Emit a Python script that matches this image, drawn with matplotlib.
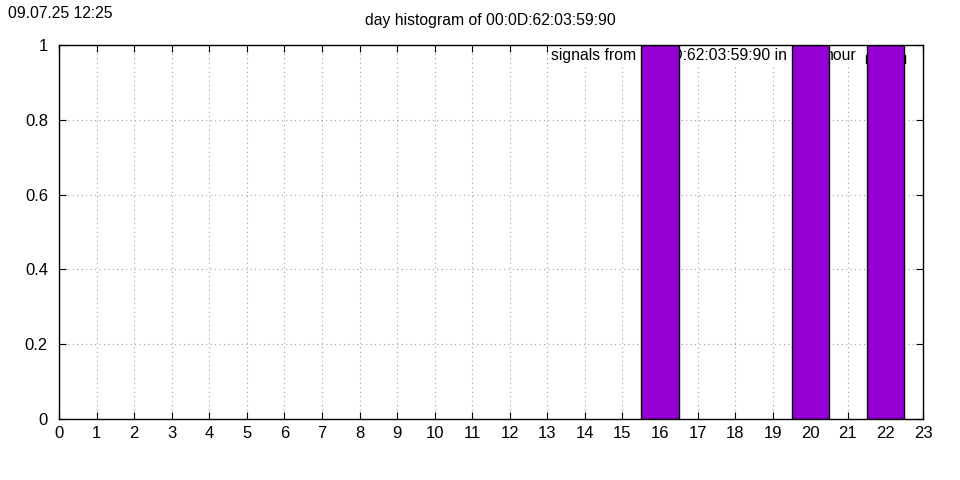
import matplotlib.pyplot as plt
import matplotlib.patches as mpatches

plt.rcParams['font.family'] = ['Liberation Sans', 'DejaVu Sans']

# данные
hours = [16, 20, 22]
counts = [1, 1, 1]
x_ticks = list(range(0, 24))
y_ticks = [0, 0.2, 0.4, 0.6, 0.8, 1]
y_labels = ['0', '0.2', '0.4', '0.6', '0.8', '1']
mac = '00:0D:62:03:59:90'
bar_color = '#9400d3'
fs = 11.3

fig = plt.figure(figsize=(9.6, 4.8), dpi=100)
ax = fig.add_axes([59 / 960, 1 - 419 / 480, 864 / 960, 374 / 480])

# легенда в стиле gnuplot (под столбцами)
bg = mpatches.Rectangle(((548 - 59) / 864, 0.94), (860 - 548) / 864, 0.06,
                        transform=ax.transAxes, facecolor='white', edgecolor='none', zorder=1)
ax.add_patch(bg)
ax.text((551 - 59) / 864, 0.971, f'signals from {mac} in', transform=ax.transAxes,
        ha='left', va='center', fontsize=fs, zorder=2)
ax.text((857 - 59) / 864, 0.971, 'hour', transform=ax.transAxes,
        ha='right', va='center', fontsize=fs, zorder=2)
key = mpatches.Rectangle(((866 - 59) / 864, 0.953), 39 / 864, 0.02, transform=ax.transAxes,
                         facecolor=bar_color, edgecolor='black', linewidth=1, zorder=2)
ax.add_patch(key)

ax.bar(hours, counts, width=1, color=bar_color, edgecolor='black', linewidth=1, zorder=3)

ax.set_xlim(0, 23)
ax.set_ylim(0, 1)
ax.set_xticks(x_ticks)
ax.set_yticks(y_ticks)
ax.set_yticklabels(y_labels)
ax.tick_params(direction='in', top=True, right=True, labelsize=12, length=5)
ax.tick_params(axis='y', pad=8)
ax.tick_params(axis='x', pad=5)
ax.grid(True, color='#a0a0a0', linestyle=(0, (1, 3)), linewidth=0.8, zorder=0)
ax.set_axisbelow(True)
for s in ax.spines.values():
    s.set_linewidth(1)
    s.set_zorder(4)

fig.text(490 / 960, 1 - 21 / 480, f'day histogram of {mac}', ha='center', va='center', fontsize=fs)
fig.text(8 / 960, 1 - 13 / 480, '09.07.25 12:25', ha='left', va='center', fontsize=fs)

plt.savefig('out.png', dpi=100)
